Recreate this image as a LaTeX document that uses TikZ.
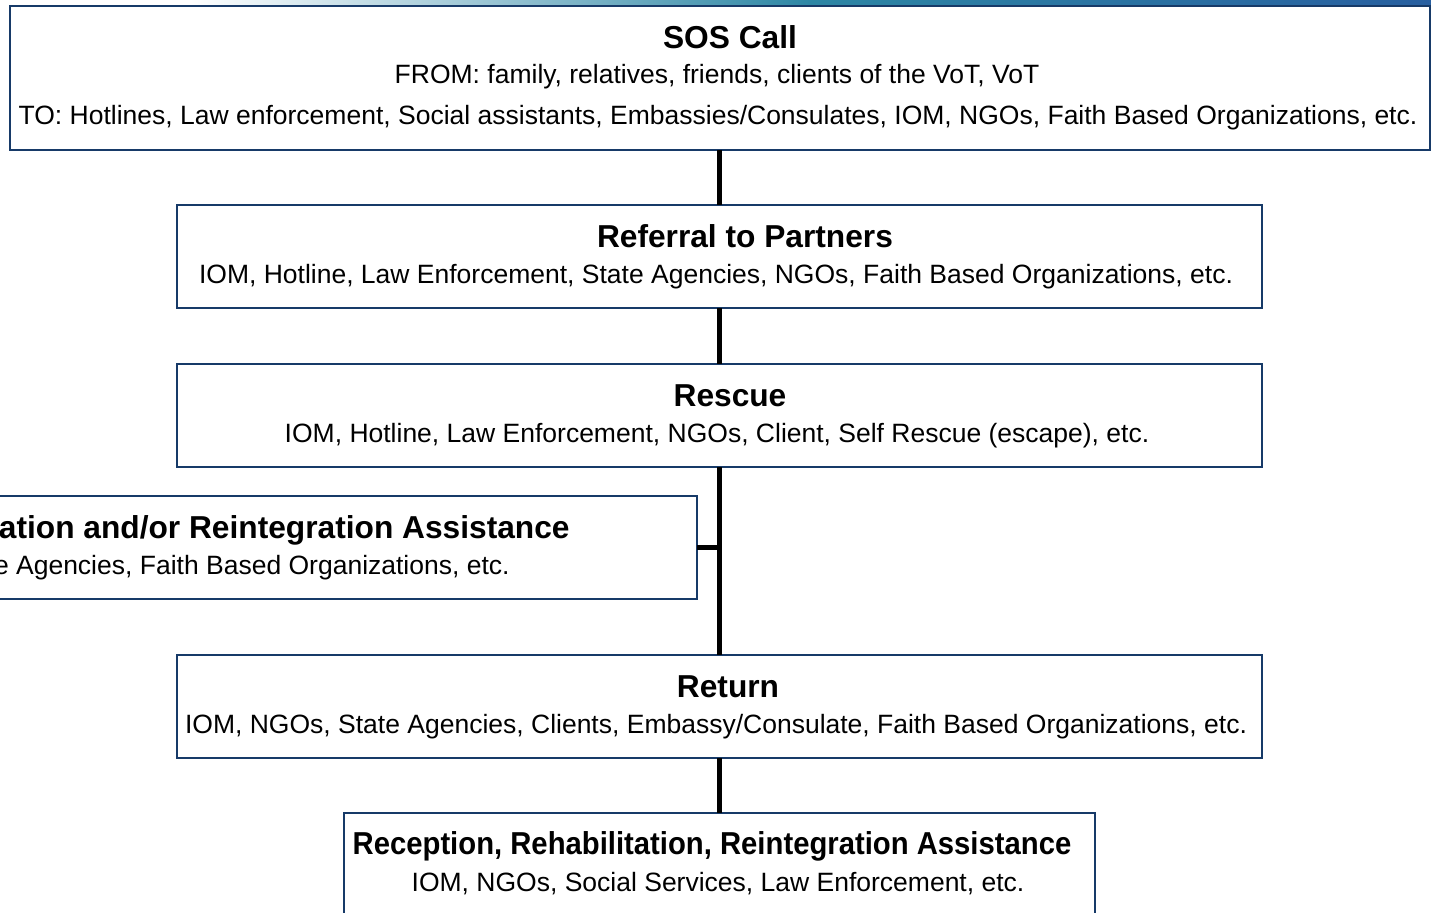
\documentclass[tikz,border=0pt]{standalone}
\usepackage{fontspec}
\setmainfont{Liberation Sans}
\definecolor{boxblue}{RGB}{23,58,104}
\definecolor{bandteal}{RGB}{45,135,165}
\definecolor{bandblue}{RGB}{40,95,160}
\begin{document}
\begin{tikzpicture}[x=0.5pt,y=-0.5pt,
  box/.style={draw=boxblue, line width=1pt, fill=white, inner sep=0pt, outer sep=0pt, rectangle},
  ttl/.style={font=\fontsize{15.85}{18}\selectfont\bfseries, anchor=base, inner sep=0pt},
  txt/.style={font=\fontsize{13.25}{16}\selectfont, anchor=base, inner sep=0pt},
  conn/.style={line width=2.5pt, black}]
\useasboundingbox (0,0) rectangle (1431,913);
\clip (0,0) rectangle (1431,913);
\fill[white] (0,0) rectangle (1431,913);
\shade[left color=white, right color=bandblue, middle color=bandteal] (190,0) rectangle (1431,6);

% boxes
\node[box, minimum width=710pt, minimum height=72pt] (sos) at (720,78) {};
\node[box, minimum width=542.5pt, minimum height=51.5pt] (ref) at (719.5,256.5) {};
\node[box, minimum width=542.5pt, minimum height=51.5pt] (res) at (719.5,415.5) {};
\node[box, minimum width=498.5pt, minimum height=51.5pt] (rep) at (198.5,547.5) {};
\node[box, minimum width=542.5pt, minimum height=51.5pt] (ret) at (719.5,706.5) {};
\node[box, minimum width=375.5pt, minimum height=100pt] (rec) at (719.5,913) {};

% connectors
\coordinate (br) at (719.5,547.5);
\draw[conn] (sos.south -| ref.north) -- (ref.north);
\draw[conn] (ref.south) -- (res.north);
\draw[conn] (res.south) -- (ret.north);
\draw[conn] (rep.east) -- (br);
\draw[conn] (ret.south) -- (rec.north);

% texts
\node[ttl] (t1) at (730,49) {SOS Call};
\node[txt] (t1a) at (717,84) {FROM: family, relatives, friends, clients of the VoT, VoT};
\node[txt] (t1b) at (718,125) {TO: Hotlines, Law enforcement, Social assistants, Embassies/Consulates, IOM, NGOs, Faith Based Organizations, etc.};

\node[ttl] (t2) at (745,248) {Referral to Partners};
\node[txt] (t2a) at (716,284) {IOM, Hotline, Law Enforcement, State Agencies, NGOs, Faith Based Organizations, etc.};

\node[ttl] (t3) at (730,407) {Rescue};
\node[txt] (t3a) at (717,443) {IOM, Hotline, Law Enforcement, NGOs, Client, Self Rescue (escape), etc.};

\node[ttl, anchor=base east] (t4) at (570,539) {ation and/or Reintegration Assistance};
\node[txt, anchor=base east] (t4a) at (510,575) {e Agencies, Faith Based Organizations, etc.};

\node[ttl] (t5) at (728,698) {Return};
\node[txt] (t5a) at (716,734) {IOM, NGOs, State Agencies, Clients, Embassy/Consulate, Faith Based Organizations, etc.};

\node[ttl] (t6) at (712,855) {\scalebox{0.923}[1]{Reception, Rehabilitation, Reintegration Assistance}};
\node[txt] (t6a) at (718,892) {IOM, NGOs, Social Services, Law Enforcement, etc.};
\end{tikzpicture}
\end{document}
